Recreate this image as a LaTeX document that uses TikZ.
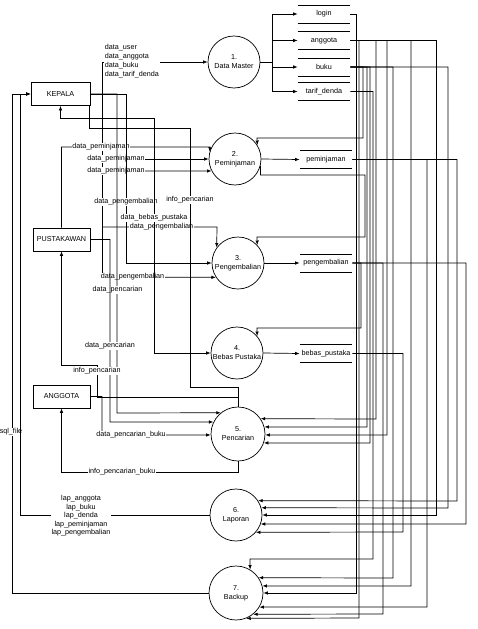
\documentclass[tikz,border=0pt]{standalone}
\usepackage{fontspec}
\setmainfont{Liberation Sans}
\usetikzlibrary{arrows.meta}

\begin{document}
\begin{tikzpicture}
    [%%%%%%%%%%%%%%%%%%%%%%%%%%%%%%
        x=1pt,y=-1pt,line width=0.7pt,
        every node/.style={font=\fontsize{7.2}{9}\selectfont},
        entity/.style={rectangle,draw=black,minimum width=57pt,minimum height=23pt,inner sep=0pt},
        proc/.style={circle,draw=black,minimum size=52pt,inner sep=0pt,align=center},
        store/.style={minimum width=52pt,minimum height=17pt,inner sep=0pt},
        flow/.style={-{Latex[length=4.5pt,width=3.5pt]}},
        flowboth/.style={{Latex[length=4.5pt,width=3.5pt]}-{Latex[length=4.5pt,width=3.5pt]}},
        lbl/.style={fill=white,inner sep=0.6pt},
    ]%%%%%%%%%%%%%%%%%%%%%%%%%%%%%%
\useasboundingbox (0,0) rectangle (478,629);
% entities
\node[entity, minimum width=59pt] (kepala) at (60.5,94) {KEPALA};
\node[entity] (pustakawan) at (61.5,239.5) {PUSTAKAWAN};
\node[entity] (anggota) at (61.5,396.5) {ANGGOTA};
% processes
\node[proc] (p1) at (234,62) {1.\\Data Master};
\node[proc] (p2) at (235,159) {2.\\Peminjaman};
\node[proc] (p3) at (238,263) {3.\\Pengembalian};
\node[proc] (p4) at (237,353) {4.\\Bebas Pustaka};
\node[proc, minimum size=54pt] (p5) at (238,434) {5.\\Pencarian};
\node[proc] (p6) at (236,515) {6.\\Laporan};
\node[proc, minimum size=54pt] (p7) at (236,593) {7.\\Backup};
% data stores
\node[store] (stLogin) at (324,14) {login};
\node[store] (stAnggota) at (324,40.5) {anggota};
\node[store] (stBuku) at (324,67) {buku};
\node[store] (stTarif) at (324,91.5) {tarif\_denda};
\node[store] (stPeminjaman) at (326,159.5) {peminjaman};
\node[store] (stPengembalian) at (326,263) {pengembalian};
\node[store] (stBebas) at (326,353.5) {bebas\_pustaka};
\foreach \s in {stLogin,stAnggota,stBuku,stTarif,stPeminjaman,stPengembalian,stBebas}
    \draw (\s.north west) -- (\s.north east) (\s.south west) -- (\s.south east);
\coordinate (jA) at (102,277);
\coordinate (jB) at (102,227);
\coordinate (jC) at (117,159);
\coordinate (jD) at (117,171);

% processes to stores
\foreach \s in {stLogin,stAnggota,stBuku,stTarif}
    \draw[flow] (p1.east) -- (272,62) |- (\s.west);
\draw[flow] (p2.east) -- (stPeminjaman.west);
\draw[flow] (p3.east) -- (stPengembalian.west);
\draw[flow] (p4.east) -- (stBebas.west);

% stores to processes
\draw[flow] (stLogin.east) -| (356,593) -- (p7.0);
\draw[flow] (stAnggota.east) -| (359,618) -- (p7.-68);
\draw[flow] (stAnggota.east) -| (411,586) -- (p7.15);
\draw[flow] (stAnggota.east) -| (436,515) -- (p6.0);
\draw[flow] (stAnggota.east) -| (376,419) -- (p5.34);
\draw[flow] (stAnggota.east) -| (387,435) -- (p5.-2);
\draw[flow] (stBuku.east) -| (363,138) -- (257,138) -- (p2.32);
\draw[flow] (stBuku.east) -| (370,443) -- (p5.-19);
\draw[flow] (stBuku.east) -| (367,427) -- (p5.15);
\draw[flow] (stBuku.east) -| (393,578) -- (p7.34);
\draw[flow] (stBuku.east) -| (448,508) -- (p6.16);
\draw[flow] (stTarif.east) -| (373,559) -- (250,559) -- (p7.59);
\draw[flow] (stPeminjaman.east) -| (457,501) -- (p6.33);
\draw[flow] (stPeminjaman.east) -| (427,607) -- (p7.-31);
\draw[flow] (stPengembalian.east) -| (466,524) -- (p6.-20);
\draw[flow] (stPengembalian.east) -| (383,614) -- (p7.-51);
\draw[flow] (stPengembalian.east) -| (361,328) -- (257,328) -- (p4.40);
\draw[flow] (stBebas.east) -| (403,532) -- (p6.-41);
\draw[flow] (p2.-15) |- (365,175) -- (365,237) -- (257,237) -- (p3.43);

% entities and processes
\draw[flow] (p7.west) -- (12,593) -- (12,94) -- (kepala.west)
    node[lbl] at (11,432) {sql\_file};
\draw[flow] (p6.west) -- (20,515) -- (20,94) -- (kepala.west)
    node[lbl, align=center, font=\fontsize{7.2}{8.5}\selectfont] at (81,516)
    {lap\_anggota\\lap\_buku\\lap\_denda\\lap\_peminjaman\\lap\_pengembalian};
\draw[flow] (jA) -- (102,62) -- (p1.west)
    node[lbl, anchor=west, align=left] at (104,61.5)
    {data\_user\\data\_anggota\\data\_buku\\data\_tarif\_denda};
\draw[flow] (jA) -- (p3.213) node[lbl] at (132.5,277) {data\_pengembalian};
\draw[flow] (jB) -- (217,227) -- (p3.144) node[lbl] at (161.5,227) {data\_pengembalian};
\draw[flow] (pustakawan.north) |- (210,147) -- (p2.164) node[lbl] at (101,147) {data\_peminjaman};
\draw[flow] (jC) -- (p2.west) node[lbl] at (116,159) {data\_peminjaman};
\draw[flow] (jD) -- (p2.207) node[lbl] at (116,171) {data\_peminjaman};
\draw[flow] (kepala.east) -| (126,263) -- (p3.west) node[lbl] at (126,202) {data\_pengembalian};
\draw[flow] (kepala.east) -| (117,413) -- (p5.129) node[lbl] at (117.5,290) {data\_pencarian};
\draw ([xshift=-1.5pt]kepala.south east) |- (190,128) -- (190,387) -| (p5.north)
    node[lbl] at (190,200) {info\_pencarian};
\draw[flowboth] (kepala.south) |- (154,118) |- (p4.west) node[lbl] at (154,218) {data\_bebas\_pustaka};
\draw[flow] (pustakawan.east) -| (110,422) -- (p5.154) node[lbl] at (110,346) {data\_pencarian};
\draw[flow] (anggota.east) -| (102,435) -- (p5.182) node[lbl] at (131,435) {data\_pencarian\_buku};
\draw[flow] (p5.north) |- (97,397) |- (61.5,365) -- (pustakawan.south) node[lbl] at (97,371) {info\_pencarian};
\draw[flow] (p5.south) |- (61.5,472) -- (anggota.south) node[lbl] at (122,472) {info\_pencarian\_buku};
\end{tikzpicture}
\end{document}
